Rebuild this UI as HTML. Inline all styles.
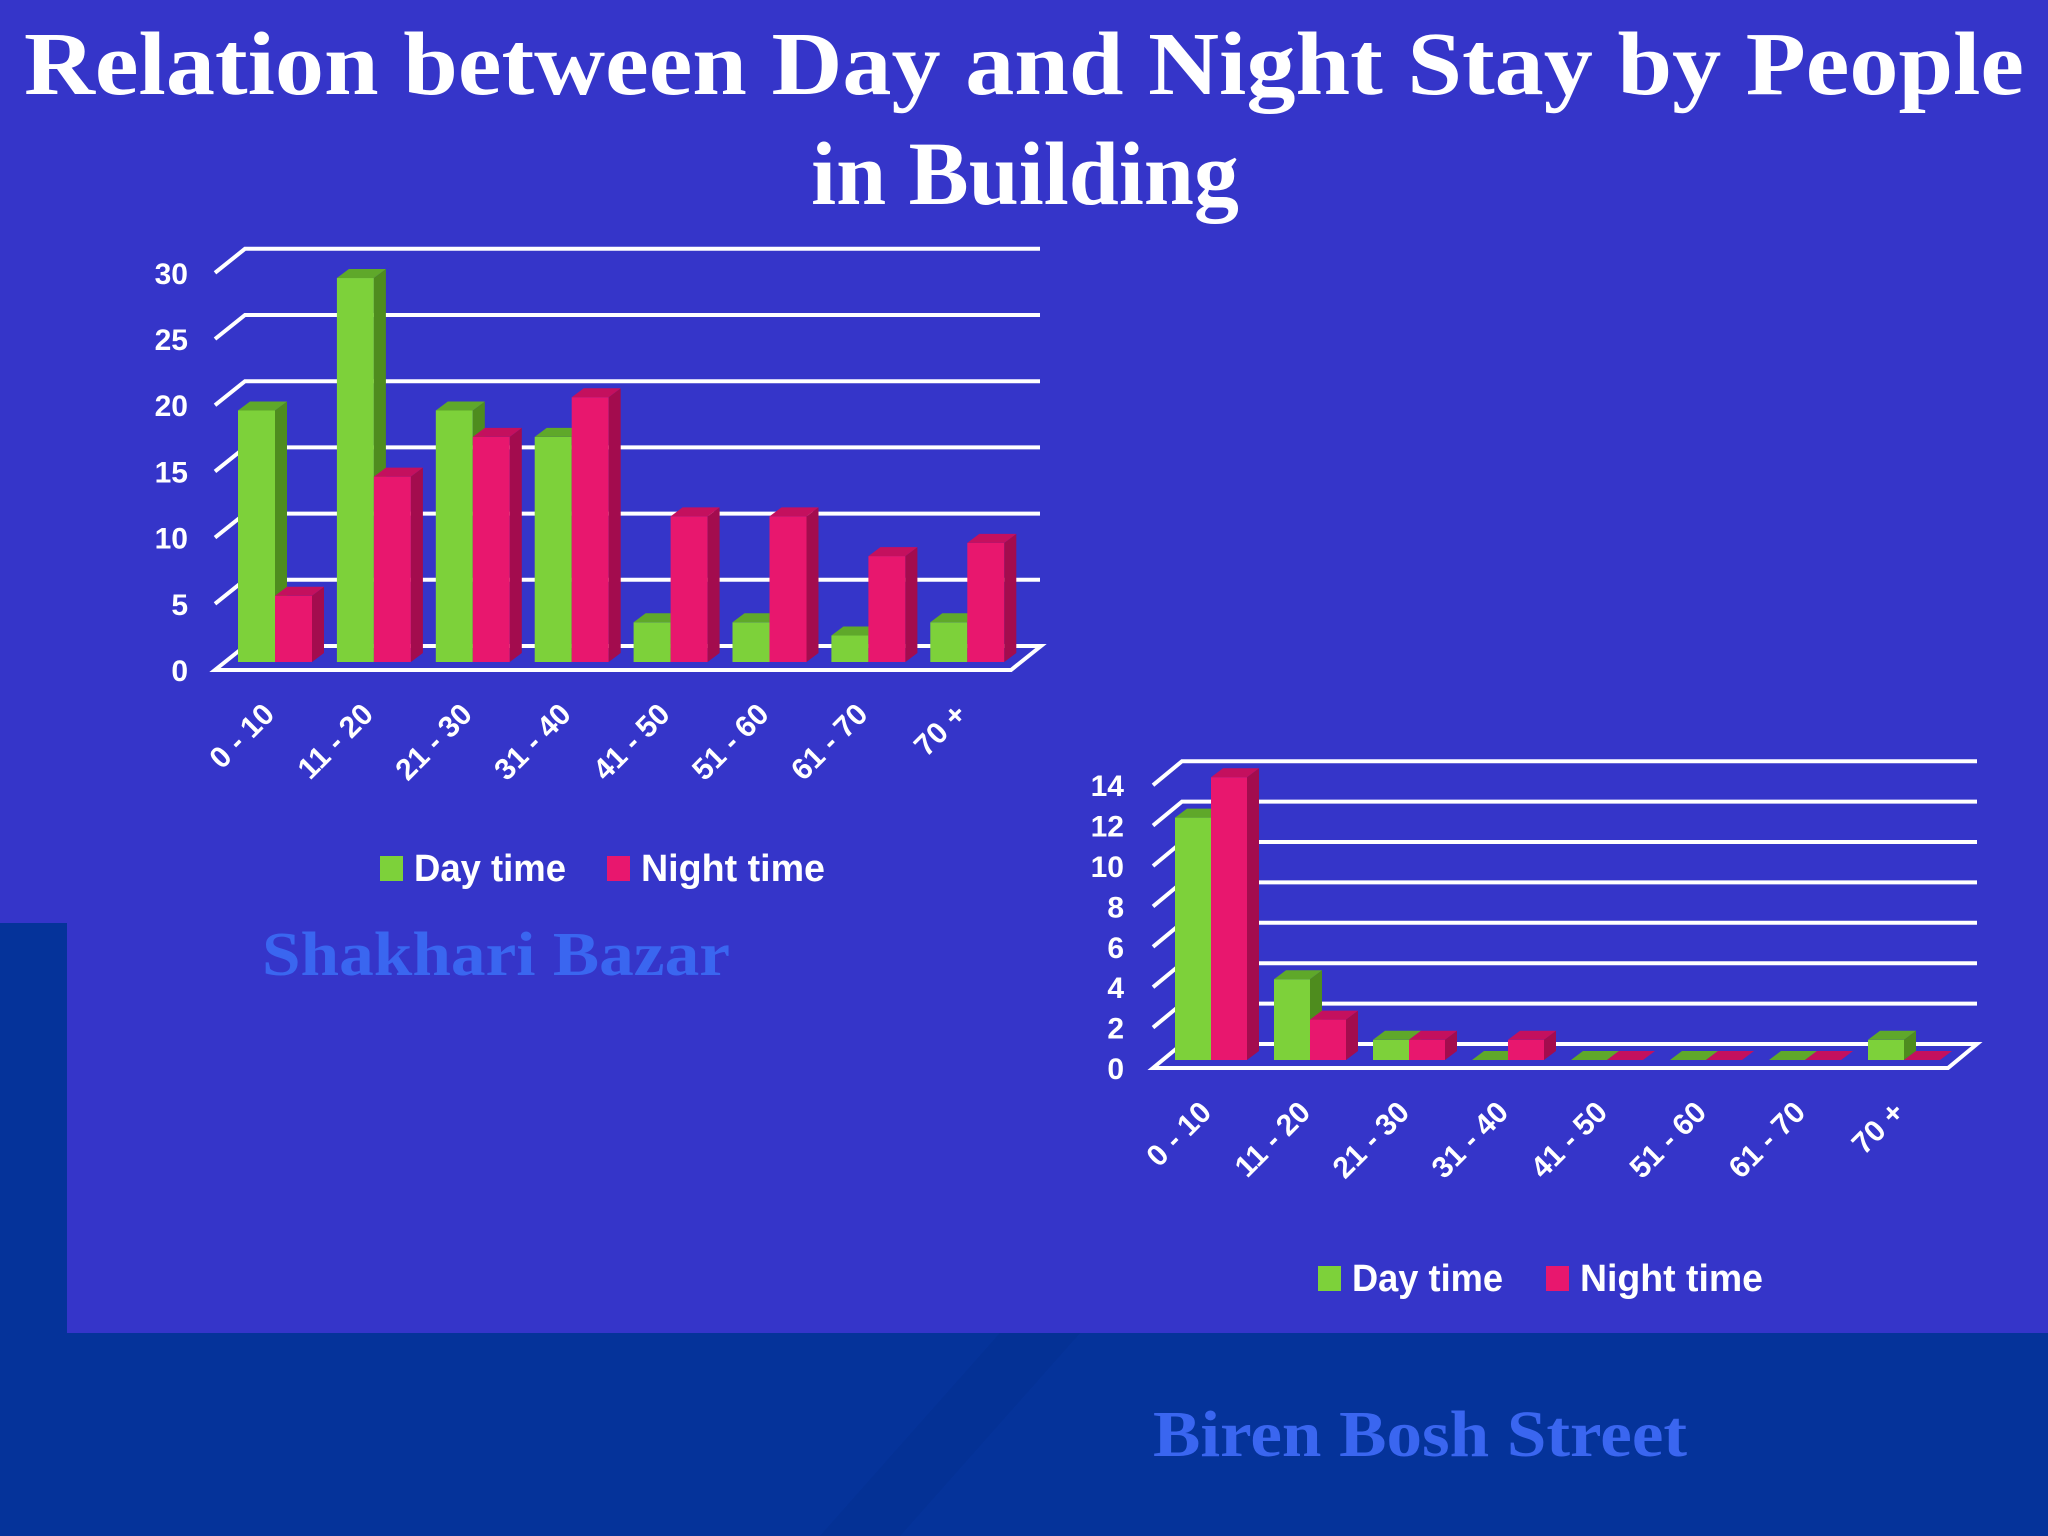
<!DOCTYPE html>
<html><head><meta charset="utf-8"><style>
html,body{margin:0;padding:0;width:2048px;height:1536px;overflow:hidden;background:#3535c9}
svg{display:block}
</style></head><body>
<svg id="s" width="2048" height="1536" viewBox="0 0 2048 1536" xmlns="http://www.w3.org/2000/svg">
<rect x="0" y="0" width="2048" height="1536" fill="#3535c9"/>
<rect x="0" y="923" width="67" height="613" fill="#05339a"/>
<rect x="0" y="1333" width="2048" height="203" fill="#05339a"/>
<polygon points="1000,1333 1080,1333 900,1536 820,1536" fill="#04308f" opacity="0.5"/>
<text x="1024" y="94" text-anchor="middle" font-family="Liberation Serif, serif" font-weight="bold" font-size="90" fill="#fff" textLength="2000" lengthAdjust="spacingAndGlyphs">Relation between Day and Night Stay by People</text>
<text x="1025" y="204" text-anchor="middle" font-family="Liberation Serif, serif" font-weight="bold" font-size="90" fill="#fff">in Building</text>
<text x="262" y="975" font-family="Liberation Serif, serif" font-weight="bold" font-size="62" fill="#3a66f0" textLength="468" lengthAdjust="spacingAndGlyphs">Shakhari Bazar</text>
<text x="1153" y="1456" font-family="Liberation Serif, serif" font-weight="bold" font-size="66" fill="#3a66f0" textLength="534" lengthAdjust="spacingAndGlyphs">Biren Bosh Street</text>
<g id="c1"></g>
<g id="c2"></g>
</svg>
<script>
const categories = ["0 - 10","11 - 20","21 - 30","31 - 40","41 - 50","51 - 60","61 - 70","70 +"];
const day1 = [19, 29, 19, 17, 3, 3, 2, 3];
const night1 = [5, 14, 17, 20, 11, 11, 8, 9];
const ticks1 = [0, 5, 10, 15, 20, 25, 30];
const day2 = [12, 4, 1, 0, 0, 0, 0, 1];
const night2 = [14, 2, 1, 1, 0, 0, 0, 0];
const ticks2 = [0, 2, 4, 6, 8, 10, 12, 14];

const NS = "http://www.w3.org/2000/svg";
function mk(parent, tag, attrs, text) {
  const e = document.createElementNS(NS, tag);
  for (const k in attrs) e.setAttribute(k, attrs[k]);
  if (text !== undefined) e.textContent = text;
  parent.appendChild(e);
  return e;
}

function drawChart(g, cfg, day, night, ticks) {
  const front = v => cfg.front0 - cfg.scale * v;
  const back = v => front(v) - cfg.dy;
  const W = "#ffffff";
  ticks.forEach(t => {
    if (t > 0) {
      const l = mk(g, "polyline", {points: `${cfg.fx0},${front(t)} ${cfg.fx0 + cfg.dx},${back(t)} ${cfg.bx1},${back(t)}`, fill: "none", stroke: W, "stroke-width": 4});
      
      
    }
    const lab = mk(g, "text", {x: cfg.labX, y: front(t) + 11, "text-anchor": "end", "font-family": "Liberation Sans, sans-serif", "font-weight": "bold", "font-size": 30, fill: W}, String(t));
    
    
  });
  const fl = mk(g, "polyline", {points: `${cfg.fx0 + cfg.dx},${back(0)} ${cfg.fx0},${front(0)} ${cfg.fx1},${front(0)} ${cfg.fx1 + cfg.dx},${back(0)} ${cfg.fx0 + cfg.dx},${back(0)}`, fill: "none", stroke: W, "stroke-width": 4});
  
  
  const base = cfg.front0 - 8;
  const bdx = 12, bdy = 9;
  function bar(x, w, v, cols, nm) {
    const top = base - cfg.scale * v;
    const grp = mk(g, "g", {});
    
    
    if (v > 0) {
      mk(grp, "rect", {x: x, y: top, width: w, height: base - top, fill: cols[0]});
      mk(grp, "polygon", {points: `${x + w},${top} ${x + w + bdx},${top - bdy} ${x + w + bdx},${base - bdy} ${x + w},${base}`, fill: cols[1]});
    }
    mk(grp, "polygon", {points: `${x},${top} ${x + bdx},${top - bdy} ${x + w + bdx},${top - bdy} ${x + w},${top}`, fill: cols[2]});
  }
  categories.forEach((c, i) => {
    const x = cfg.x0 + cfg.step * i;
    bar(x, cfg.bw, day[i], ["#7dd13a", "#4e8c1e", "#5fa82a"], "bar-day-" + i);
    bar(x + cfg.bw, cfg.bw, night[i], ["#e8176e", "#a30c4e", "#c4105e"], "bar-night-" + i);
    const ax = x + 38, ay = cfg.front0 + 46;
    const t = mk(g, "text", {x: ax, y: ay, "text-anchor": "end", transform: `rotate(-45 ${ax} ${ay})`, "font-family": "Liberation Sans, sans-serif", "font-weight": "bold", "font-size": 30, fill: W}, c);
    
    
  });
  const L = cfg.leg;
  const s1 = mk(g, "rect", {x: L.x1, y: L.y - 25, width: 23, height: 25, fill: "#7dd13a"});
  
  
  const t1 = mk(g, "text", {x: L.x1 + 34, y: L.y, "font-family": "Liberation Sans, sans-serif", "font-weight": "bold", "font-size": 38, fill: W, textLength: L.w1, lengthAdjust: "spacingAndGlyphs"}, "Day time");
  
  
  const s2 = mk(g, "rect", {x: L.x2, y: L.y - 25, width: 23, height: 25, fill: "#e8176e"});
  
  
  const t2 = mk(g, "text", {x: L.x2 + 34, y: L.y, "font-family": "Liberation Sans, sans-serif", "font-weight": "bold", "font-size": 38, fill: W, textLength: L.w2, lengthAdjust: "spacingAndGlyphs"}, "Night time");
  
  
}

drawChart(document.getElementById("c1"),
  {front0: 670, scale: 13.24, dx: 30, dy: 24, fx0: 215, fx1: 1011, bx1: 1040, labX: 188, x0: 238, step: 98.9, bw: 37,
   leg: {x1: 380, x2: 607, y: 881, w1: 152, w2: 184}}, day1, night1, ticks1);
drawChart(document.getElementById("c2"),
  {front0: 1068, scale: 20.2, dx: 29, dy: 24, fx0: 1153, fx1: 1948, bx1: 1977, labX: 1124, x0: 1175, step: 99, bw: 36,
   leg: {x1: 1318, x2: 1546, y: 1291, w1: 151, w2: 183}}, day2, night2, ticks2);
</script>
</body></html>
